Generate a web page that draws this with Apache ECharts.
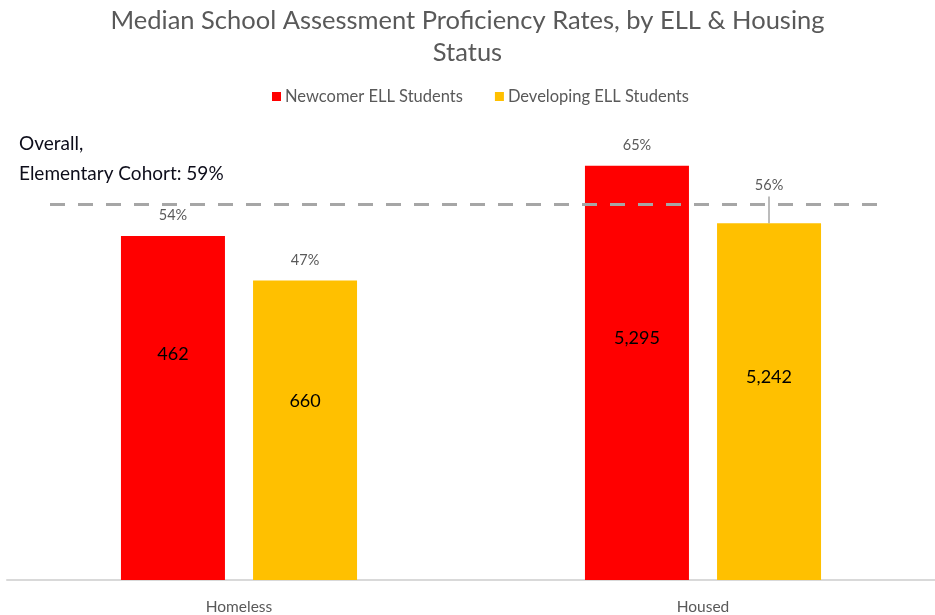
<!DOCTYPE html>
<html>
<head>
<meta charset="utf-8">
<script src="https://cdn.jsdelivr.net/npm/echarts@6/dist/echarts.min.js"></script>
<style>
  html, body { margin: 0; padding: 0; background: #fff; }
  #chart { width: 935px; height: 615px; }
</style>
</head>
<body>
<div id="chart"></div>
<script>
const categories = ["Homeless", "Housed"]
const newcomerRates = [54, 65]
const developingRates = [47, 56]
const newcomerCounts = [462, 5295]
const developingCounts = [660, 5242]
const overallRate = 59

// where the student counts sit inside the bars (in % units)
const newcomerCountAt = [35.5, 38]
const developingCountAt = [28, 31.8]

const font = "Lato"
const chart = echarts.init(document.getElementById("chart"))

const countPoints = (counts, at) =>
  counts.map((c, i) => ({ coord: [categories[i], at[i]], value: c }))

const pctLabel = {
  show: true,
  position: "top",
  distance: 13,
  color: "#595959",
  fontFamily: font,
  fontSize: 14.5,
  formatter: (p) => p.value + "%"
}

const countMark = (counts, at) => ({
  symbol: "circle",
  symbolSize: 1,
  itemStyle: { color: "rgba(0,0,0,0)" },
  label: {
    show: true,
    position: "inside",
    color: "#000",
    fontFamily: font,
    fontSize: 18,
    formatter: (p) => p.value.toLocaleString("en-US")
  },
  data: countPoints(counts, at)
})

chart.setOption({
  animation: false,
  title: {
    text: "Median School Assessment Proficiency Rates, by ELL & Housing\nStatus",
    left: "center",
    top: 0,
    textStyle: {
      color: "#595959",
      fontFamily: font,
      fontWeight: "normal",
      fontSize: 25.5,
      lineHeight: 32
    }
  },
  legend: {
    top: 83,
    left: 267,
    itemWidth: 9,
    itemHeight: 9,
    itemGap: 32,
    icon: "rect",
    textStyle: { color: "#595959", fontFamily: font, fontSize: 16.5, padding: [0, 0, 0, -1] }
  },
  graphic: [
    {
      type: "text",
      left: 19,
      top: 129,
      style: {
        text: "Overall,\nElementary Cohort: " + overallRate + "%",
        fill: "#0d0d1a",
        font: "19px " + font,
        lineHeight: 30
      }
    }
  ],
  grid: { left: 7, right: 0, top: 134, bottom: 34 },
  xAxis: {
    type: "category",
    data: categories,
    axisTick: { show: false },
    axisLine: { lineStyle: { color: "#d9d9d9", width: 2 } },
    axisLabel: { color: "#595959", fontFamily: font, fontSize: 15.5, margin: 19 }
  },
  yAxis: {
    type: "value",
    min: 0,
    max: 70,
    show: false,
    splitLine: { show: false }
  },
  series: [
    {
      name: "Newcomer ELL Students",
      type: "bar",
      barWidth: 104,
      barGap: "27%",
      itemStyle: { color: "#ff0000" },
      label: pctLabel,
      data: newcomerRates,
      markPoint: countMark(newcomerCounts, newcomerCountAt),
      markLine: {
        silent: true,
        symbol: "none",
        label: { show: false },
        lineStyle: { color: "#a6a6a6", type: [15, 13], width: 3 },
        data: [[
          { coord: [categories[0], overallRate], x: 50 },
          { coord: [categories[1], overallRate], x: 882 }
        ]]
      },
      z: 2
    },
    {
      name: "Developing ELL Students",
      type: "bar",
      barWidth: 104,
      barGap: "27%",
      itemStyle: { color: "#ffc000" },
      label: pctLabel,
      data: developingRates.map((v, i) =>
        i === 1 ? { value: v, label: { offset: [0, -17] } } : v
      ),
      markPoint: countMark(developingCounts, developingCountAt),
      markLine: {
        silent: true,
        symbol: "none",
        label: { show: false },
        lineStyle: { color: "#a6a6a6", type: "solid", width: 1.5 },
        data: [[
          { coord: [categories[1], developingRates[1]] },
          { coord: [categories[1], 60.2] }
        ]]
      }
    }
  ]
})
</script>
</body>
</html>
